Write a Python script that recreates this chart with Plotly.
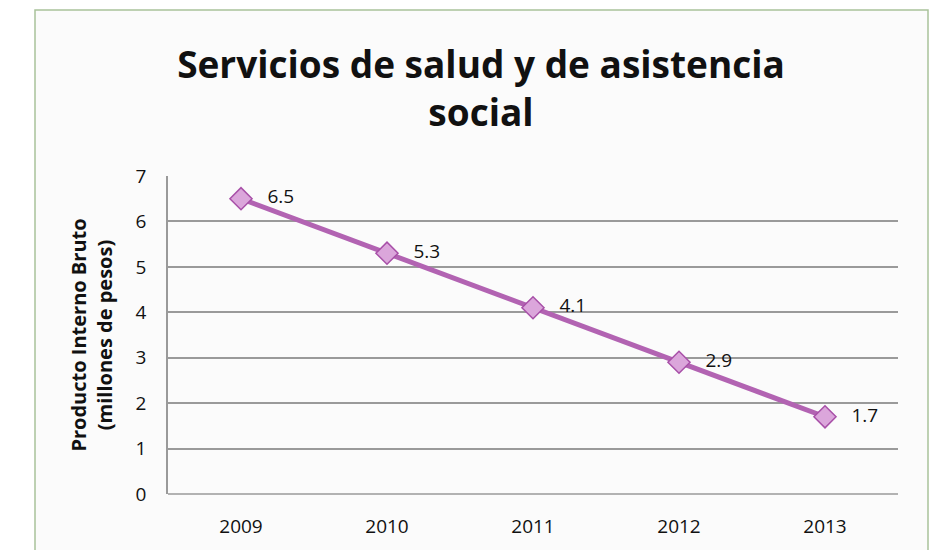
import plotly.graph_objects as go

years = ["2009", "2010", "2011", "2012", "2013"]
values = [6.5, 5.3, 4.1, 2.9, 1.7]
labels = ["6.5", "5.3", "4.1", "2.9", "1.7"]
y_ticks = [0, 1, 2, 3, 4, 5, 6, 7]

OFF = 8  # page body margin
W, H = 938 - OFF, 550 - OFF
L, R, T, B = 168 - OFF, 40, 176 - OFF, 56
pw, ph = W - L - R, H - T - B

def px(x):
    return (x - OFF - L) / pw

def py(y):
    return (H - B - (y - OFF)) / ph

fig = go.Figure()
fig.add_trace(go.Scatter(
    x=years, y=values, mode="lines+markers+text",
    text=["   " + t for t in labels], textposition="middle right",
    textfont=dict(family="Open Sans", size=19, color="#111111"),
    line=dict(color="#b263b2", width=5),
    marker=dict(symbol="diamond", size=17, color="#dba6db",
                line=dict(color="#a850a8", width=1.5)),
    cliponaxis=False, showlegend=False,
))

fig.update_layout(
    width=W, height=H,
    margin=dict(l=L, r=R, t=T, b=B),
    paper_bgcolor="white", plot_bgcolor="rgba(0,0,0,0)",
    title=dict(text="<b>Servicios de salud y de asistencia<br>social</b>",
               x=(481 - OFF) / W, xref="container", xanchor="center",
               y=(H - (78 - OFF)) / H, yanchor="middle",
               font=dict(family="Open Sans", size=37, color="#111111")),
    xaxis=dict(type="category", showgrid=False, showline=False, ticks="",
               tickfont=dict(family="Open Sans", size=19, color="#111111"),
               ticklabelstandoff=19,
               range=[-0.5, 4.5]),
    yaxis=dict(range=[0, 7], tickvals=y_ticks, showgrid=True,
               gridcolor="#9a9a9a", gridwidth=1.5,
               showline=True, linecolor="#9a9a9a", linewidth=1.5,
               ticks="", ticklen=0, ticklabelstandoff=16,
               tickfont=dict(family="Open Sans", size=19, color="#111111"),
               title=dict(text="<b>Producto Interno Bruto<br>(millones de pesos)</b>",
                          font=dict(family="Open Sans", size=20, color="#111111"),
                          standoff=18),
               zeroline=False),
    shapes=[
        dict(type="rect", xref="paper", yref="paper",
             x0=px(35), x1=px(928), y0=py(560), y1=py(10),
             line=dict(color="#a9c29a", width=1.5), fillcolor="#fbfbfb",
             layer="below"),
        dict(type="line", xref="paper", yref="paper",
             x0=0, x1=1, y0=0, y1=0,
             line=dict(color="#9a9a9a", width=1.5), layer="below"),
    ],
)

fig.write_html("out.html")
